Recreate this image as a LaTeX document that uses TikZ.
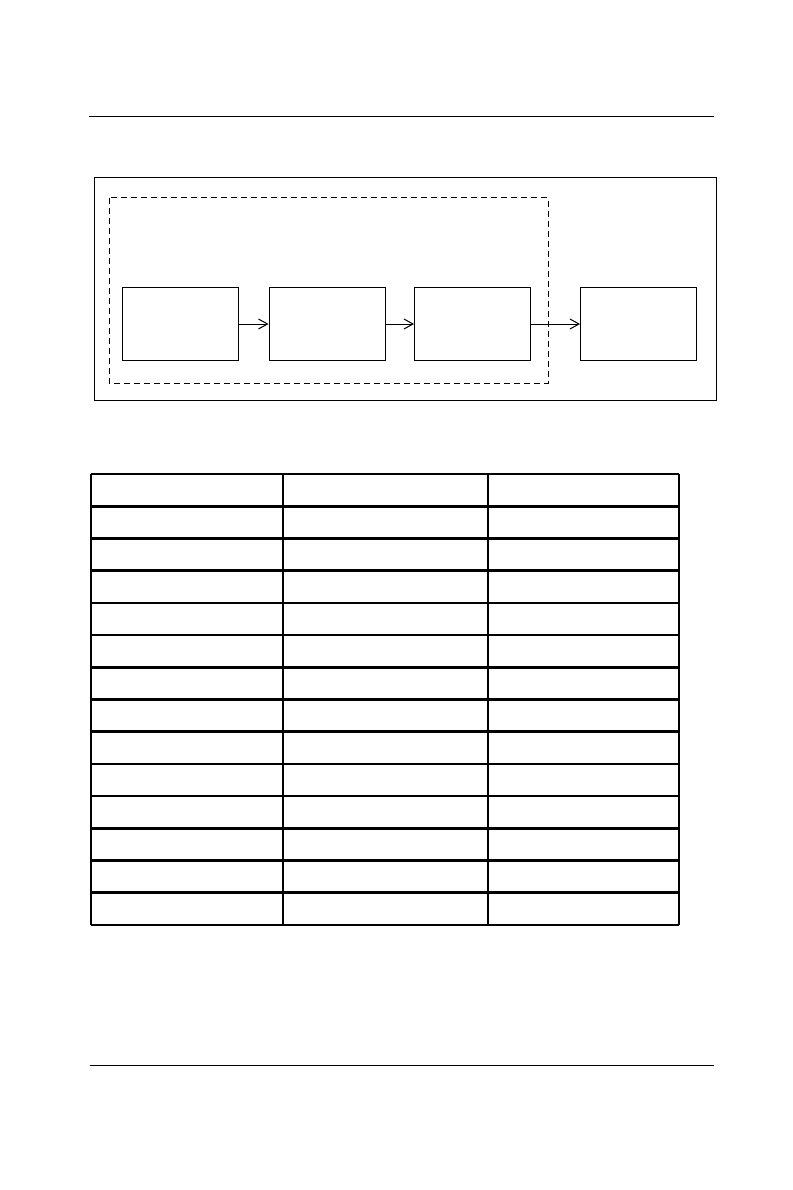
\documentclass[tikz,border=0pt]{standalone}
\usepackage{tikz}
\usetikzlibrary{arrows.meta}

\begin{document}
\begin{tikzpicture}[x=1pt, y=-1pt,
        block/.style={draw, line width=1pt, minimum width=116pt,
          minimum height=73pt, inner sep=0pt},
        frame/.style={draw, line width=1pt},
        grp/.style={draw, line width=1pt, dash pattern=on 6pt off 4pt},
        grid/.style={line width=2.6pt},
        >={Straight Barb[length=9pt, width=10pt]}]
     \useasboundingbox (0,0) rectangle (792,1190);
     \draw[line width=1pt] (89,117) -- (714,117);
     \draw[frame] (94,178) rectangle (716,400);
     \draw[grp] (109,198) rectangle (548,383);
     \node (src) at (180.5,324) [block] {};
     \node (prep) at (327,324) [block] {};
     \node (proc) at (472.5,324) [block] {};
     \node (sink) at (638.5,324) [block] {};
      \draw[->, line width=1pt] (src.east) -- (prep.west);
      \draw[->, line width=1pt] (prep.east) -- (proc.west);
      \draw[->, line width=1pt] (proc.east) -- (sink.west);
     % table
     \foreach \r in {0,...,14}
        \draw[grid] (91,474+\r*32.2) -- (679,474+\r*32.2);
     \foreach \c in {91,283,488,679}
        \draw[grid] (\c,474) -- (\c,925);
     \draw[line width=1pt] (90,1065) -- (714,1065);
\end{tikzpicture}
\end{document}
